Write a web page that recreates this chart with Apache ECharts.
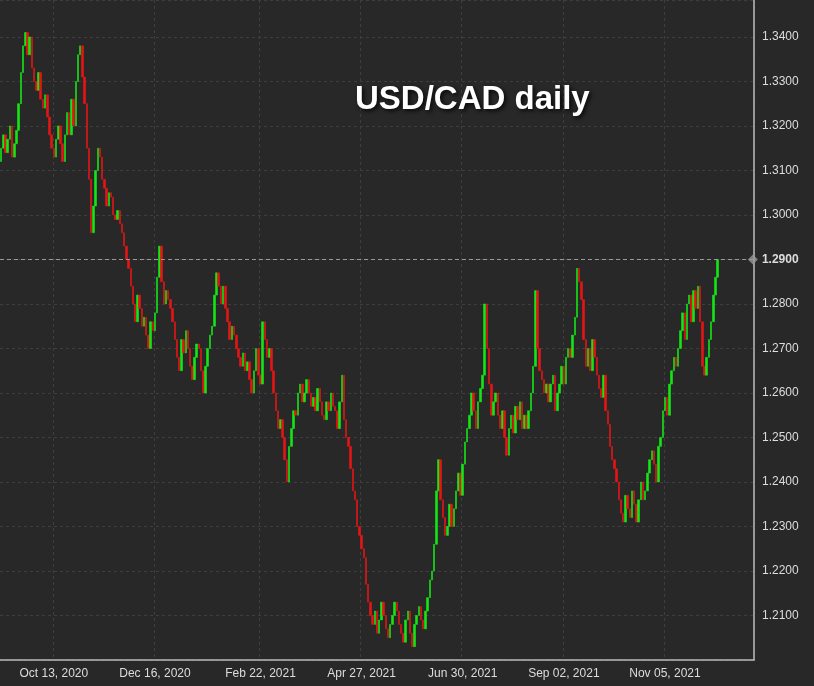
<!DOCTYPE html>
<html>
<head>
<meta charset="utf-8">
<script src="https://cdn.jsdelivr.net/npm/echarts@6/dist/echarts.min.js"></script>
<style>html,body{margin:0;padding:0;background:#282828;}#c{width:814px;height:686px;}</style>
</head>
<body>
<div id="c"></div>
<script>
// daily closes (open = previous close)
const firstOpen = 1.3120
const closes = [
  1.3150,1.3180,1.3140,1.3170,1.3200,1.3130,1.3160,1.3190,1.3250,1.3320,
  1.3380,1.3410,1.3360,1.3400,1.3330,1.3300,1.3280,1.3320,1.3260,1.3240,
  1.3270,1.3220,1.3180,1.3150,1.3130,1.3170,1.3200,1.3160,1.3120,1.3180,
  1.3230,1.3180,1.3260,1.3200,1.3300,1.3360,1.3380,1.3310,1.3250,1.3150,
  1.3080,1.2960,1.3020,1.3100,1.3150,1.3130,1.3080,1.3060,1.3020,1.3050,
  1.3040,1.3000,1.2990,1.3010,1.2980,1.2960,1.2930,1.2900,1.2880,1.2840,
  1.2800,1.2760,1.2820,1.2790,1.2750,1.2770,1.2730,1.2700,1.2760,1.2740,
  1.2780,1.2860,1.2930,1.2850,1.2800,1.2830,1.2810,1.2790,1.2760,1.2720,
  1.2680,1.2650,1.2720,1.2690,1.2740,1.2700,1.2660,1.2630,1.2680,1.2710,
  1.2700,1.2650,1.2600,1.2660,1.2700,1.2730,1.2750,1.2820,1.2870,1.2840,
  1.2800,1.2840,1.2790,1.2760,1.2720,1.2750,1.2730,1.2700,1.2680,1.2660,
  1.2690,1.2650,1.2670,1.2630,1.2600,1.2650,1.2700,1.2640,1.2620,1.2760,
  1.2720,1.2680,1.2700,1.2650,1.2600,1.2560,1.2520,1.2540,1.2500,1.2450,
  1.2400,1.2480,1.2520,1.2560,1.2550,1.2600,1.2620,1.2580,1.2600,1.2630,
  1.2600,1.2570,1.2590,1.2560,1.2610,1.2580,1.2550,1.2540,1.2580,1.2560,
  1.2600,1.2570,1.2560,1.2520,1.2580,1.2640,1.2540,1.2500,1.2480,1.2430,
  1.2380,1.2360,1.2300,1.2280,1.2250,1.2230,1.2170,1.2130,1.2100,1.2080,
  1.2110,1.2060,1.2090,1.2130,1.2100,1.2070,1.2050,1.2080,1.2100,1.2130,
  1.2110,1.2080,1.2060,1.2040,1.2090,1.2110,1.2060,1.2030,1.2080,1.2100,
  1.2120,1.2090,1.2070,1.2110,1.2140,1.2180,1.2200,1.2260,1.2380,1.2450,
  1.2360,1.2320,1.2280,1.2300,1.2350,1.2300,1.2340,1.2380,1.2420,1.2370,
  1.2440,1.2490,1.2520,1.2550,1.2600,1.2560,1.2520,1.2580,1.2610,1.2640,
  1.2800,1.2700,1.2620,1.2550,1.2580,1.2600,1.2550,1.2520,1.2560,1.2500,
  1.2460,1.2520,1.2550,1.2510,1.2570,1.2540,1.2580,1.2520,1.2550,1.2520,
  1.2560,1.2600,1.2660,1.2830,1.2700,1.2650,1.2630,1.2600,1.2620,1.2580,
  1.2620,1.2640,1.2560,1.2600,1.2620,1.2660,1.2620,1.2680,1.2700,1.2680,
  1.2730,1.2770,1.2880,1.2850,1.2810,1.2720,1.2660,1.2700,1.2650,1.2720,
  1.2680,1.2640,1.2610,1.2590,1.2640,1.2560,1.2530,1.2480,1.2450,1.2430,
  1.2400,1.2360,1.2330,1.2310,1.2370,1.2340,1.2320,1.2380,1.2350,1.2310,
  1.2360,1.2400,1.2360,1.2380,1.2420,1.2450,1.2470,1.2440,1.2400,1.2480,
  1.2500,1.2560,1.2590,1.2550,1.2620,1.2650,1.2680,1.2660,1.2700,1.2740,
  1.2780,1.2720,1.2800,1.2820,1.2760,1.2830,1.2790,1.2840,1.2760,1.2660,
  1.2640,1.2680,1.2720,1.2760,1.2820,1.2860,1.2900
]
const tickDates = ['Oct 13, 2020','Dec 16, 2020','Feb 22, 2021','Apr 27, 2021','Jun 30, 2021','Sep 02, 2021','Nov 05, 2021']
const lastPrice = 1.2900
const padSlots = 16

// weekday dates starting Sep 9, 2020
const M = ['Jan','Feb','Mar','Apr','May','Jun','Jul','Aug','Sep','Oct','Nov','Dec']
const dates = []
let d = new Date(Date.UTC(2020, 8, 9))
while (dates.length < closes.length + padSlots) {
  const wd = d.getUTCDay()
  if (wd !== 0 && wd !== 6) {
    dates.push(M[d.getUTCMonth()] + ' ' + String(d.getUTCDate()).padStart(2, '0') + ', ' + d.getUTCFullYear())
  }
  d = new Date(d.getTime() + 86400000)
}

const ohlc = closes.map((c, i) => {
  const o = i === 0 ? firstOpen : closes[i - 1]
  return [o, c, Math.min(o, c), Math.max(o, c)]
})

const isTick = (i, v) => tickDates.indexOf(v) >= 0

const chart = echarts.init(document.getElementById('c'))
chart.setOption({
  backgroundColor: '#282828',
  animation: false,
  title: {
    text: 'USD/CAD daily', left: 350, top: 78,
    textStyle: { color: '#fff', fontSize: 33, fontWeight: 'bold', fontFamily: 'Liberation Sans',
      textShadowColor: 'rgba(0,0,0,0.8)', textShadowBlur: 4, textShadowOffsetX: 2, textShadowOffsetY: 2 }
  },
  grid: { left: 0, right: 60, top: 0, bottom: 26 },
  xAxis: {
    type: 'category', data: dates, boundaryGap: true,
    axisLine: { lineStyle: { color: '#bbb', width: 1.5 } },
    axisTick: { interval: isTick, lineStyle: { color: '#bbb' }, length: 4 },
    axisLabel: { interval: isTick, color: '#ddd', fontSize: 12, fontFamily: 'Liberation Sans', margin: 8 },
    splitLine: { show: true, interval: isTick, lineStyle: { color: '#3e3e3e', type: [3, 3] } }
  },
  yAxis: {
    type: 'value', position: 'right', min: 1.2, max: 1.3483, interval: 0.01,
    axisLine: { show: true, lineStyle: { color: '#bbb', width: 1.5 } },
    axisTick: { show: false },
    axisLabel: {
      color: '#ddd', fontSize: 12, fontFamily: 'Liberation Sans', margin: 8,
      formatter: v => (v < 1.205 || v > 1.345 ? '' : v.toFixed(4))
    },
    splitLine: { lineStyle: { color: '#3e3e3e', type: [3, 3] } }
  },
  series: [{
    type: 'candlestick', data: ohlc, barWidth: 2, large: false,
    itemStyle: { color: '#14e614', color0: '#e61414', borderColor: '#14e614', borderColor0: '#e61414', borderWidth: 0.6 },
    markLine: {
      silent: true, symbol: ['none', 'none'],
      label: { show: false },
      lineStyle: { color: '#999', type: [4, 3], width: 1 },
      data: [{ yAxis: lastPrice }]
    }
  }, {
    type: 'scatter', symbol: 'diamond', symbolSize: 10,
    data: [[dates[dates.length - 1], lastPrice]],
    itemStyle: { color: '#999' },
    label: { show: true, position: 'right', distance: 2, formatter: lastPrice.toFixed(4),
      color: '#fff', fontWeight: 'bold', fontSize: 12, fontFamily: 'Liberation Sans', backgroundColor: '#282828', padding: [2, 2] },
    clip: false
  }]
})
</script>
</body>
</html>
